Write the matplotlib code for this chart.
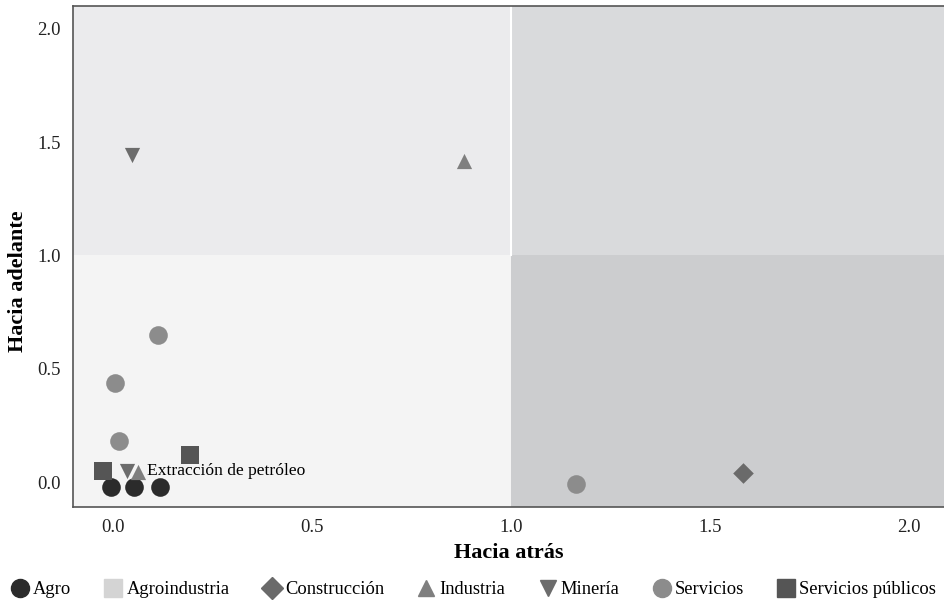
import matplotlib.pyplot as plt
from matplotlib.lines import Line2D
from matplotlib.patches import Rectangle

plt.rcParams['font.family'] = ['Liberation Serif', 'DejaVu Serif']

# sector data: backward (x) and forward (y) linkages
agro_x = [-0.005, 0.053, 0.118]
agro_y = [-0.022, -0.022, -0.022]
agroind_x = []
agroind_y = []
constr_x = [1.583]
constr_y = [0.04]
indus_x = [0.881, 0.063]
indus_y = [1.417, 0.044]
miner_x = [0.048, 0.035]
miner_y = [1.444, 0.049]
serv_x = [0.113, 0.005, 0.015, 1.164]
serv_y = [0.649, 0.437, 0.181, -0.009]
servpub_x = [-0.025, 0.193]
servpub_y = [0.049, 0.119]

series = [
    ("Agro", agro_x, agro_y, 'o', '#2b2b2b', 180),
    ("Agroindustria", agroind_x, agroind_y, 's', '#d4d4d4', 180),
    ("Construcción", constr_x, constr_y, 'D', '#6a6a6a', 110),
    ("Industria", indus_x, indus_y, '^', '#7f7f7f', 120),
    ("Minería", miner_x, miner_y, 'v', '#6c6c6c', 120),
    ("Servicios", serv_x, serv_y, 'o', '#8c8c8c', 180),
    ("Servicios públicos", servpub_x, servpub_y, 's', '#555555', 180),
]

fig = plt.figure(figsize=(9.45, 6.06), dpi=100)
ax = fig.add_axes([0.0772, 0.1634, 0.9228, 0.8266])
xmin, xmax = -0.1, 2.09
ymin, ymax = -0.11, 2.1
ax.set_xlim(xmin, xmax)
ax.set_ylim(ymin, ymax)

# quadrant backgrounds
ax.add_patch(Rectangle((xmin, ymin), 1 - xmin, 1 - ymin, color='#f4f4f4', zorder=0, lw=0))
ax.add_patch(Rectangle((xmin, 1), 1 - xmin, ymax - 1, color='#ebebed', zorder=0, lw=0))
ax.add_patch(Rectangle((1, 1), xmax - 1, ymax - 1, color='#d9dadc', zorder=0, lw=0))
ax.add_patch(Rectangle((1, ymin), xmax - 1, 1 - ymin, color='#cccdcf', zorder=0, lw=0))
ax.plot([1, 1], [1, ymax], color='white', lw=1.5, zorder=1)

handles = []
for name, xs, ys, m, c, s in series:
    ax.scatter(xs, ys, marker=m, color=c, s=s, zorder=3, linewidths=0)
    handles.append(Line2D([], [], marker=m, color=c, ls='none',
                          markersize=13 if m in 'os' else 11, label=name))

ax.text(0.085, 0.05, "Extracción de petróleo", fontsize=12.6, va='center', zorder=4)

ax.set_xticks([0.0, 0.5, 1.0, 1.5, 2.0])
ax.set_yticks([0.0, 0.5, 1.0, 1.5, 2.0])
ax.set_xticklabels(["0.0", "0.5", "1.0", "1.5", "2.0"])
ax.set_yticklabels(["0.0", "0.5", "1.0", "1.5", "2.0"])
ax.tick_params(length=0, labelsize=13.5, colors='#222222', pad=9)
ax.set_xlabel("Hacia atrás", fontsize=16, fontweight='bold', labelpad=5)
ax.set_ylabel("Hacia adelante", fontsize=16, fontweight='bold')
ax.yaxis.set_label_coords(-0.052, 0.45)
for side in ['left', 'bottom', 'top']:
    ax.spines[side].set_color('#555555')
    ax.spines[side].set_linewidth(1.2)
ax.spines['right'].set_visible(False)

fig.legend(handles=handles, loc='lower center', bbox_to_anchor=(0.5, -0.015), ncol=7,
           frameon=False, fontsize=13.3, handletextpad=0.1, columnspacing=1.7,
           handlelength=1.2)

fig.savefig("out.png", dpi=100)
